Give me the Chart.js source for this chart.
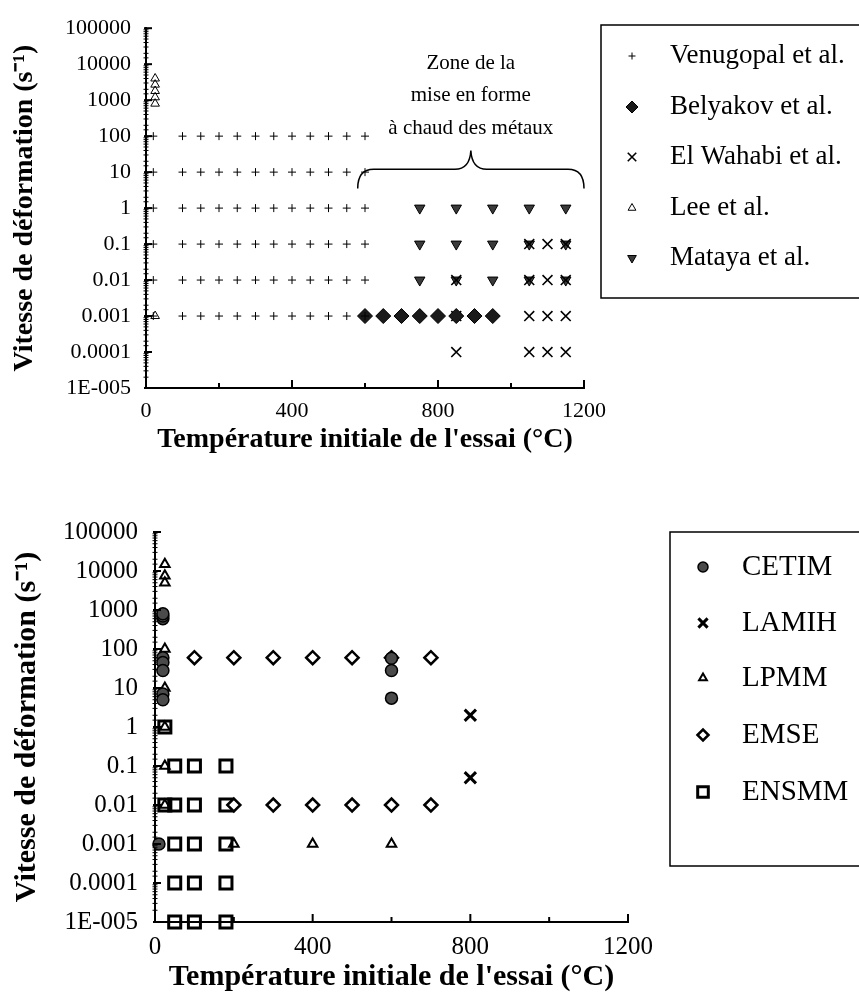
<!DOCTYPE html>
<html><head><meta charset="utf-8">
<script src="https://cdn.jsdelivr.net/npm/chart.js@4.4.1/dist/chart.umd.min.js"></script>
<style>
html,body{margin:0;padding:0;background:#fff;overflow:hidden;width:859px;height:998px;position:relative;}
#w1{position:absolute;left:0;top:0;width:900px;height:470px;}
#w2{position:absolute;left:0;top:470px;width:900px;height:528px;}
</style></head><body>
<div id="w1"><canvas id="c1"></canvas></div>
<div id="w2"><canvas id="c2"></canvas></div>
<script>
// ---------- tick labels ----------
const yTickLabels = ["1E-005","0.0001","0.001","0.01","0.1","1","10","100","1000","10000","100000"];
const xTickLabels = ["0","400","800","1200"];
const xTitle = "Température initiale de l'essai (°C)";
const yTitle = "Vitesse de déformation (s\u207B\u00B9)";

// ---------- chart 1 data ----------
const venugopalTemps = [20,100,150,200,250,300,350,400,450,500,550,600];
const venugopalRates = [100,10,1,0.1,0.01,0.001];
const belyakovTemps = [600,650,700,750,800,850,900,950];
const belyakovRates = [0.001,0.001,0.001,0.001,0.001,0.001,0.001,0.001];
const elWahabiTemps = [1050,1100,1150, 850,1050,1100,1150, 850,1050,1100,1150, 850,1050,1100,1150];
const elWahabiRates = [0.1,0.1,0.1, 0.01,0.01,0.01,0.01, 0.001,0.001,0.001,0.001, 0.0001,0.0001,0.0001,0.0001];
const leeTemps = [25,25,25,25,25,25];
const leeRates = [800,1200,1800,2700,4000,0.001];
const matayaTemps = [750,850,950,1050,1150];
const matayaRates = [1,0.1,0.01];

// ---------- chart 2 data ----------
const cetimTemps = [20,20,20,20,20,20,20,20,10,600,600,600];
const cetimRates = [600,700,800,60,45,28,7,5,0.001,58,28,5.5];
const lamihTemps = [800,800];
const lamihRates = [2,0.05];
const lpmmTemps = [25,25,25,25,25,25,25,25,200,400,600];
const lpmmRates = [15000,7500,5000,100,10,1,0.1,0.01,0.001,0.001,0.001];
const emseTemps = [100,200,300,400,500,600,700, 200,300,400,500,600,700];
const emseRates = [60,60,60,60,60,60,60, 0.01,0.01,0.01,0.01,0.01,0.01];
const ensmmTemps = [25, 50,100,180, 25,50,100,180, 50,100,180, 50,100,180, 50,100,180];
const ensmmRates = [1, 0.1,0.1,0.1, 0.01,0.01,0.01,0.01, 0.001,0.001,0.001, 0.0001,0.0001,0.0001, 0.00001,0.00001,0.00001];

// ---------- helpers ----------
const zip = (t, r) => t.map((x, i) => ({x: x, y: r[i]}));
const grid2 = (t, r) => { const out = []; r.forEach(y => t.forEach(x => out.push({x: x, y: y}))); return out; };
const isPow10 = v => Math.abs(Math.log10(v) - Math.round(Math.log10(v))) < 1e-6;
const SERIF = '"Liberation Serif", "Times New Roman", serif';

function ds(label, data, style, o) {
  return Object.assign({
    label: label, data: data, pointStyle: style, showLine: false, clip: false,
    pointRadius: 5, pointHoverRadius: 5, pointRotation: 0,
    backgroundColor: '#fff', borderColor: '#000', borderWidth: 1
  }, o);
}

function makeScales(s) {
  return {
    x: {
      type: 'linear', min: 0, max: 1200,
      border: {display: true, color: '#000', width: 2},
      grid: {drawOnChartArea: false, drawTicks: false, color: '#000'},
      ticks: {stepSize: 200, autoSkip: false, maxRotation: 0, color: '#000', padding: s.xTickPad,
              font: {family: SERIF, size: s.tickSize},
              callback: v => (v % 400 === 0) ? xTickLabels[v / 400] : ''},
      title: {display: true, text: xTitle, color: '#000',
              font: {family: SERIF, size: s.titleSize, weight: 'bold'},
              padding: {top: 0, bottom: s.xTitlePad}},
      afterFit: sc => { sc.height = s.xHeight; }
    },
    y: {
      type: 'logarithmic', min: 1e-5, max: 1e5,
      border: {display: true, color: '#000', width: 2},
      grid: {drawOnChartArea: false, drawTicks: false, color: '#000'},
      ticks: {autoSkip: false, color: '#000', padding: s.yTickPad,
              font: {family: SERIF, size: s.tickSize},
              callback: v => isPow10(v) ? yTickLabels[Math.round(Math.log10(v)) + 5] : ''},
      title: {display: true, text: yTitle, color: '#000',
              font: {family: SERIF, size: s.titleSize, weight: 'bold'},
              padding: {top: s.yTitlePad, bottom: 0}},
      afterFit: sc => { sc.width = s.yWidth; }
    }
  };
}

// tick marks drawn inward like the original (positions from the library's scales)
const innerTicks = {
  id: 'innerTicks',
  afterDraw(chart) {
    const ctx = chart.ctx, xs = chart.scales.x, ys = chart.scales.y, a = chart.chartArea;
    ctx.save();
    ctx.strokeStyle = '#000';
    xs.ticks.forEach(t => {
      const px = xs.getPixelForValue(t.value);
      const major = t.value % 400 === 0;
      ctx.lineWidth = 2;
      ctx.beginPath(); ctx.moveTo(px, a.bottom); ctx.lineTo(px, a.bottom - (major ? 8 : 5)); ctx.stroke();
    });
    ys.ticks.forEach(t => {
      const py = ys.getPixelForValue(t.value);
      const major = isPow10(t.value);
      ctx.lineWidth = major ? 2 : 1;
      ctx.beginPath();
      if (major) { ctx.moveTo(a.left - 2, py); ctx.lineTo(a.left + 6, py); }
      else { ctx.moveTo(a.left - 2.5, py); ctx.lineTo(a.left + 2.5, py); }
      ctx.stroke();
    });
    ctx.restore();
  }
};

function boxLegend(cfg) {
  return {
    id: 'boxLegend',
    afterDraw(chart) {
      const ctx = chart.ctx;
      ctx.save();
      ctx.lineWidth = 1.5;
      ctx.strokeStyle = '#000';
      ctx.strokeRect(cfg.left, cfg.top, cfg.right - cfg.left, cfg.bottom - cfg.top);
      chart.data.datasets.forEach((d, i) => {
        const y = cfg.rows[i];
        ctx.fillStyle = d.backgroundColor;
        ctx.strokeStyle = d.borderColor;
        ctx.lineWidth = d.borderWidth;
        Chart.helpers.drawPoint(ctx, {pointStyle: d.pointStyle, rotation: d.pointRotation || 0,
          radius: d.legendRadius || d.pointRadius, borderWidth: d.borderWidth}, cfg.markerX, y);
        ctx.fillStyle = '#000';
        ctx.font = cfg.fontSize + 'px ' + SERIF;
        ctx.textBaseline = 'middle';
        ctx.textAlign = 'left';
        ctx.fillText(d.label, cfg.textX, y);
      });
      ctx.restore();
    }
  };
}

const braceAnno = {
  id: 'brace',
  afterDatasetsDraw(chart) {
    const ctx = chart.ctx, xs = chart.scales.x, ys = chart.scales.y;
    const x1 = xs.getPixelForValue(580), xm = xs.getPixelForValue(890), x2 = xs.getPixelForValue(1200);
    const yEnd = ys.getPixelForValue(3.5), yLine = ys.getPixelForValue(12), yTip = ys.getPixelForValue(40);
    ctx.save();
    ctx.strokeStyle = '#000'; ctx.lineWidth = 1.5;
    ctx.beginPath();
    ctx.moveTo(x1, yEnd);
    ctx.quadraticCurveTo(x1, yLine, x1 + 16, yLine);
    ctx.lineTo(xm - 16, yLine);
    ctx.quadraticCurveTo(xm - 1, yLine, xm, yTip);
    ctx.quadraticCurveTo(xm + 1, yLine, xm + 16, yLine);
    ctx.lineTo(x2 - 16, yLine);
    ctx.quadraticCurveTo(x2, yLine, x2, yEnd);
    ctx.stroke();
    ctx.fillStyle = '#000';
    ctx.font = '21px ' + SERIF;
    ctx.textAlign = 'center'; ctx.textBaseline = 'middle';
    ctx.fillText('Zone de la', xm, yTip - 87);
    ctx.fillText('mise en forme', xm, yTip - 55);
    ctx.fillText('à chaud des métaux', xm, yTip - 22);
    ctx.restore();
  }
};

Chart.defaults.font.family = SERIF;

// ---------- chart 1 ----------
new Chart(document.getElementById('c1'), {
  type: 'scatter',
  data: {datasets: [
    ds('Venugopal et al.', grid2(venugopalTemps, venugopalRates), 'cross', {pointRadius: 4, borderWidth: 1, legendRadius: 3.5}),
    ds('Belyakov et al.', zip(belyakovTemps, belyakovRates), 'rectRot', {pointRadius: 7.5, backgroundColor: '#1a1a1a', borderColor: '#000', borderWidth: 1, legendRadius: 6}),
    ds('El Wahabi et al.', zip(elWahabiTemps, elWahabiRates), 'crossRot', {pointRadius: 7, borderWidth: 1.6, legendRadius: 6}),
    ds('Lee et al.', zip(leeTemps, leeRates), 'triangle', {pointRadius: 5, borderWidth: 1, backgroundColor: 'rgba(255,255,255,0)', legendRadius: 4.5}),
    ds('Mataya et al.', grid2(matayaTemps, matayaRates), 'triangle', {pointRadius: 6, pointRotation: 180, backgroundColor: '#3a3a3a', borderColor: '#000', borderWidth: 1, legendRadius: 5})
  ]},
  options: {
    responsive: true, maintainAspectRatio: false, animation: false, events: [],
    layout: {padding: {left: 0, top: 24, right: 316, bottom: 0}},
    plugins: {legend: {display: false}, tooltip: {enabled: false}},
    scales: makeScales({tickSize: 22, titleSize: 28, xTickPad: 10, xTitlePad: 13, xHeight: 82,
                        yTickPad: 15, yTitlePad: 8, yWidth: 146})
  },
  plugins: [innerTicks, braceAnno, boxLegend({left: 601, top: 25, right: 895, bottom: 298, markerX: 632, textX: 670,
                                  fontSize: 27, rows: [56, 107, 157, 208, 258]})]
});

// ---------- chart 2 ----------
new Chart(document.getElementById('c2'), {
  type: 'scatter',
  data: {datasets: [
    ds('CETIM', zip(cetimTemps, cetimRates), 'circle', {pointRadius: 6, backgroundColor: '#4a4a4a', borderColor: '#000', borderWidth: 1.5, legendRadius: 5}),
    ds('LAMIH', zip(lamihTemps, lamihRates), 'crossRot', {pointRadius: 8, borderWidth: 3, legendRadius: 6.5}),
    ds('LPMM', zip(lpmmTemps, lpmmRates), 'triangle', {pointRadius: 5.5, borderWidth: 2, backgroundColor: 'rgba(255,255,255,0)', legendRadius: 4.5}),
    ds('EMSE', zip(emseTemps, emseRates), 'rectRot', {pointRadius: 6.5, borderWidth: 2.5, backgroundColor: '#fff', legendRadius: 5.5}),
    ds('ENSMM', zip(ensmmTemps, ensmmRates), 'rect', {pointRadius: 8.5, borderWidth: 3, backgroundColor: 'rgba(255,255,255,0)', legendRadius: 7.5})
  ]},
  options: {
    responsive: true, maintainAspectRatio: false, animation: false, events: [],
    layout: {padding: {left: 0, top: 62, right: 272, bottom: 0}},
    plugins: {legend: {display: false}, tooltip: {enabled: false}},
    scales: makeScales({tickSize: 25, titleSize: 30, xTickPad: 10, xTitlePad: 3, xHeight: 76,
                        yTickPad: 17, yTitlePad: 9, yWidth: 155})
  },
  plugins: [innerTicks, boxLegend({left: 670, top: 62, right: 895, bottom: 396, markerX: 703, textX: 742,
                       fontSize: 29, rows: [97, 153, 208, 265, 322]})]
});
</script>
</body></html>
